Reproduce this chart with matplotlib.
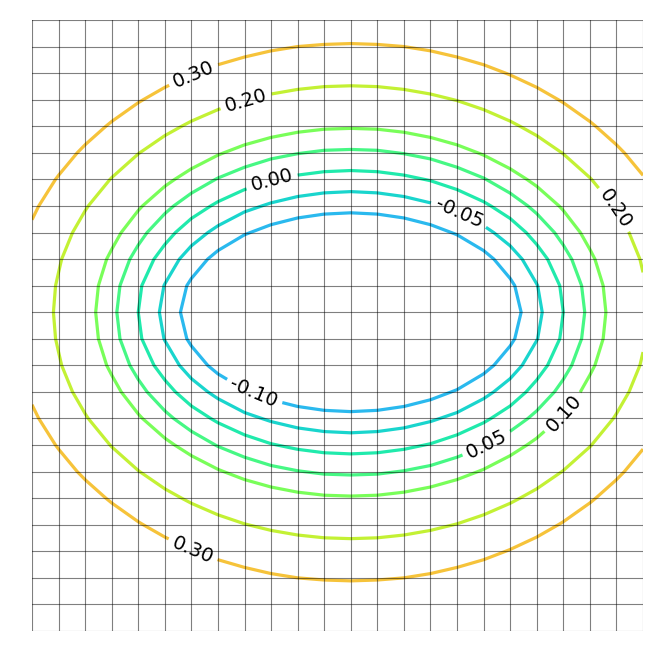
import numpy as np
import matplotlib
matplotlib.use("Agg")
import matplotlib.pyplot as plt

# grid coordinates
x = np.arange(-3, 3, 0.25)
y = np.arange(-3, 3, 0.25)

# contour levels
levels = [-0.10, -0.05, 0.00, 0.05, 0.10, 0.20, 0.30]

# surface values for one quadrant (rows: |y| = 0, 0.25, ... 3.0 ; cols: |x| = 0, 0.25, ... 3.0)
quadrant = np.array([
    [-0.334, -0.334, -0.334, -0.314, -0.251, -0.188, -0.126, -0.063, -0.000, 0.062, 0.125, 0.188, 0.250],
    [-0.272, -0.269, -0.261, -0.243, -0.211, -0.164, -0.110, -0.052, 0.008, 0.069, 0.131, 0.193, 0.255],
    [-0.209, -0.206, -0.197, -0.180, -0.154, -0.117, -0.073, -0.022, 0.032, 0.089, 0.147, 0.207, 0.267],
    [-0.146, -0.143, -0.134, -0.118, -0.095, -0.064, -0.027, 0.018, 0.066, 0.119, 0.173, 0.230, 0.287],
    [-0.084, -0.081, -0.072, -0.057, -0.037, -0.009, 0.024, 0.063, 0.107, 0.155, 0.206, 0.259, 0.314],
    [-0.021, -0.018, -0.010, 0.003, 0.023, 0.047, 0.078, 0.113, 0.153, 0.197, 0.244, 0.294, 0.346],
    [0.042, 0.044, 0.052, 0.064, 0.082, 0.105, 0.133, 0.165, 0.202, 0.242, 0.286, 0.333, 0.382],
    [0.105, 0.107, 0.114, 0.126, 0.142, 0.163, 0.189, 0.219, 0.253, 0.291, 0.332, 0.375, 0.422],
    [0.167, 0.169, 0.176, 0.187, 0.202, 0.222, 0.246, 0.274, 0.306, 0.341, 0.379, 0.421, 0.465],
    [0.230, 0.232, 0.238, 0.248, 0.263, 0.281, 0.304, 0.330, 0.360, 0.393, 0.429, 0.468, 0.510],
    [0.293, 0.295, 0.300, 0.310, 0.324, 0.341, 0.362, 0.387, 0.415, 0.446, 0.480, 0.517, 0.557],
    [0.355, 0.357, 0.363, 0.372, 0.385, 0.401, 0.421, 0.444, 0.471, 0.500, 0.533, 0.568, 0.605],
    [0.418, 0.420, 0.425, 0.434, 0.446, 0.461, 0.480, 0.502, 0.527, 0.555, 0.586, 0.620, 0.655],
])

# label anchor points (data coordinates)
label_x = [-1.49, -0.99, -0.74, 1.02, 2.50, -0.92, -1.50, 1.29, 2.03]
label_y = [2.26, 2.00, 1.22, 0.93, 0.98, -0.78, -2.27, -1.26, -0.97]

# build full grid by mirroring the quadrant
idx = np.abs(np.round(x / 0.25).astype(int))
idy = np.abs(np.round(y / 0.25).astype(int))
Z = quadrant[np.ix_(idy, idx)]

fig = plt.figure(figsize=(6.68, 6.66), dpi=100)
ax = fig.add_axes([32/668, 35/666, 611/668, 611/666])
cs = ax.contour(x, y, Z, levels=levels, cmap='turbo', vmin=-0.35, vmax=0.65,
                linewidths=2.3)
ax.clabel(cs, fmt='%.2f', fontsize=14, colors='k', inline=True,
          manual=list(zip(label_x, label_y)))
for xv in x:
    ax.axvline(xv, color='k', lw=0.8, alpha=0.5, zorder=3)
for yv in y:
    ax.axhline(yv, color='k', lw=0.8, alpha=0.5, zorder=3)
ax.set_xlim(x[0], x[-1])
ax.set_ylim(y[0], y[-1])
ax.axis('off')
fig.savefig('out.png', dpi=100)
